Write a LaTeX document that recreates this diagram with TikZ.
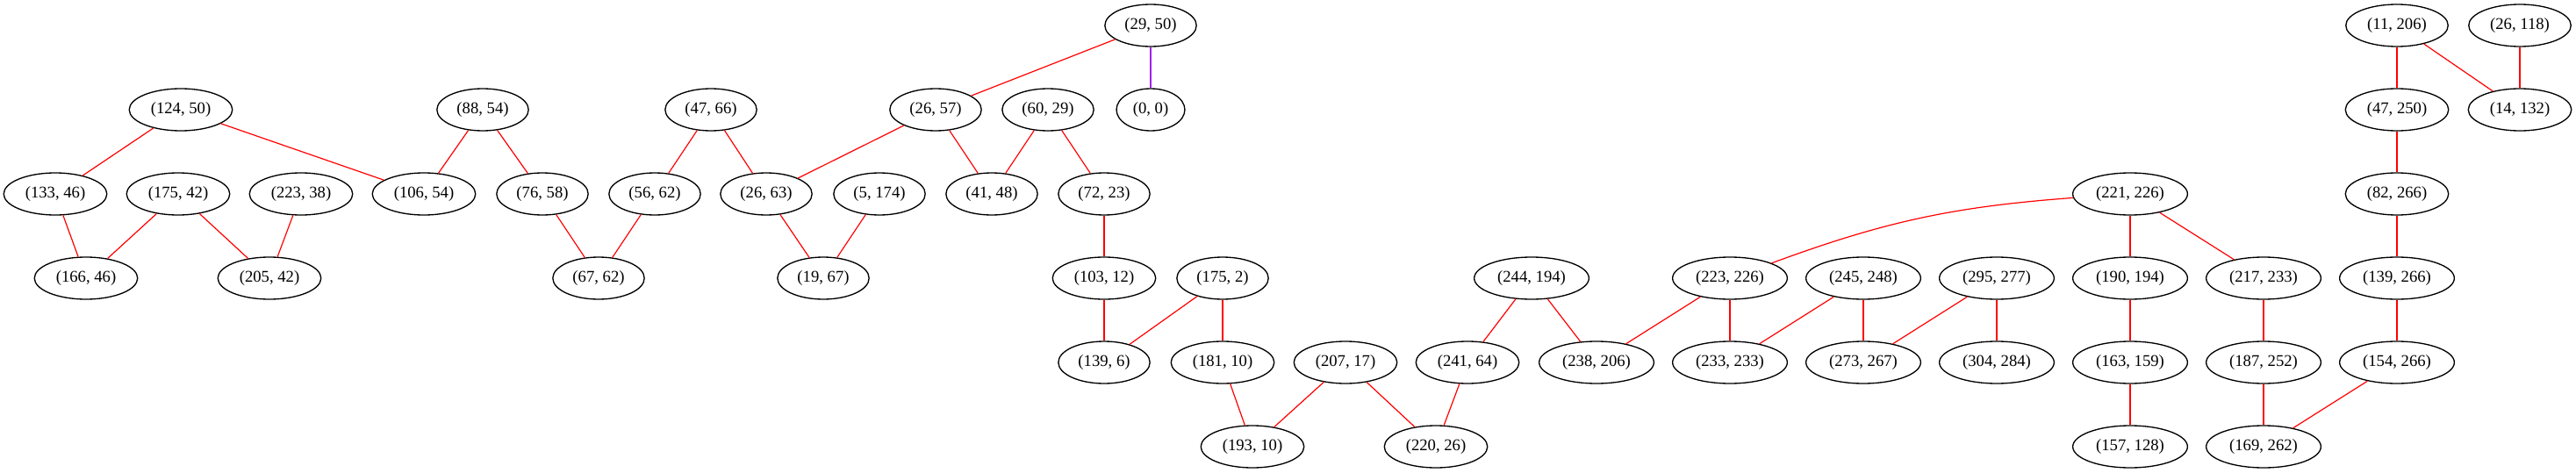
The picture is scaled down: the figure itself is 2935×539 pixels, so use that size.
\documentclass[tikz,border=0pt]{standalone}
\usepackage{fontspec}
\setmainfont{Liberation Serif}
\usepackage{tikz}
\usetikzlibrary{shapes.geometric, positioning}
\definecolor{linkpurple}{RGB}{160,32,240}
\tikzset{
    pair/.style={ellipse, draw, line width=1pt, inner xsep=5.5pt, inner ysep=2pt,
        minimum height=36pt, minimum width=54pt, font=\fontsize{14pt}{16pt}\selectfont}, % each (a, b) node
    link/.style={red, line width=0.9pt}, % the usual connector
    node distance=72pt, % one rank down
}

\begin{document}
\begin{tikzpicture}[x=0.75pt, y=-0.75pt]
    \useasboundingbox (0,0) rectangle (2935,539);
    % first rank
    \node[pair] (p29x50) at (1311,29) {(29, 50)};
    \node[pair] (p11x206) at (2731,29) {(11, 206)};
    \node[pair] (p26x118) at (2871,29) {(26, 118)};
    % second rank
    \node[pair] (p124x50) at (206,125) {(124, 50)};
    \node[pair] (p88x54) at (550,125) {(88, 54)};
    \node[pair] (p47x66) at (810,125) {(47, 66)};
    \node[pair] (p26x57) at (1066,125) {(26, 57)};
    \node[pair] (p60x29) at (1194,125) {(60, 29)};
    \node[pair, below of=p29x50] (p0x0) {(0, 0)};
    \node[pair, below of=p11x206] (p47x250) {(47, 250)};
    \node[pair, below of=p26x118] (p14x132) {(14, 132)};
    % third rank
    \node[pair] (p133x46) at (63,221) {(133, 46)};
    \node[pair] (p175x42) at (203,221) {(175, 42)};
    \node[pair] (p223x38) at (343,221) {(223, 38)};
    \node[pair] (p106x54) at (483,221) {(106, 54)};
    \node[pair] (p76x58) at (618,221) {(76, 58)};
    \node[pair] (p56x62) at (746,221) {(56, 62)};
    \node[pair] (p26x63) at (873,221) {(26, 63)};
    \node[pair] (p5x174) at (1002,221) {(5, 174)};
    \node[pair] (p41x48) at (1130,221) {(41, 48)};
    \node[pair] (p72x23) at (1258,221) {(72, 23)};
    \node[pair] (p221x226) at (2427,221) {(221, 226)};
    \node[pair, below of=p47x250] (p82x266) {(82, 266)};
    % fourth rank
    \node[pair] (p166x46) at (98,317) {(166, 46)};
    \node[pair] (p205x42) at (307,317) {(205, 42)};
    \node[pair] (p67x62) at (682,317) {(67, 62)};
    \node[pair] (p19x67) at (938,317) {(19, 67)};
    \node[pair, below of=p72x23] (p103x12) {(103, 12)};
    \node[pair] (p175x2) at (1393,317) {(175, 2)};
    \node[pair] (p244x194) at (1745,317) {(244, 194)};
    \node[pair] (p223x226) at (1971,317) {(223, 226)};
    \node[pair] (p245x248) at (2123,317) {(245, 248)};
    \node[pair] (p295x277) at (2275,317) {(295, 277)};
    \node[pair, below of=p221x226] (p190x194) {(190, 194)};
    \node[pair] (p217x233) at (2579,317) {(217, 233)};
    \node[pair, below of=p82x266] (p139x266) {(139, 266)};
    % fifth rank
    \node[pair, below of=p103x12] (p139x6) {(139, 6)};
    \node[pair, below of=p175x2] (p181x10) {(181, 10)};
    \node[pair] (p207x17) at (1533,413) {(207, 17)};
    \node[pair] (p241x64) at (1672,413) {(241, 64)};
    \node[pair] (p238x206) at (1819,413) {(238, 206)};
    \node[pair, below of=p223x226] (p233x233) {(233, 233)};
    \node[pair, below of=p245x248] (p273x267) {(273, 267)};
    \node[pair, below of=p295x277] (p304x284) {(304, 284)};
    \node[pair, below of=p190x194] (p163x159) {(163, 159)};
    \node[pair, below of=p217x233] (p187x252) {(187, 252)};
    \node[pair, below of=p139x266] (p154x266) {(154, 266)};
    % sixth rank
    \node[pair] (p193x10) at (1427,509) {(193, 10)};
    \node[pair] (p220x26) at (1636,509) {(220, 26)};
    \node[pair, below of=p163x159] (p157x128) {(157, 128)};
    \node[pair, below of=p187x252] (p169x262) {(169, 262)};
    \draw[link]
    (p124x50) edge (p133x46)
    (p124x50) edge (p106x54)
    (p88x54) edge (p106x54)
    (p88x54) edge (p76x58)
    (p133x46) edge (p166x46)
    (p175x42) edge (p166x46)
    (p175x42) edge (p205x42)
    (p223x38) edge (p205x42)
    (p76x58) edge (p67x62)
    (p56x62) edge (p67x62)
    (p47x66) edge (p56x62)
    (p47x66) edge (p26x63)
    (p26x57) edge (p26x63)
    (p26x57) edge (p41x48)
    (p60x29) edge (p41x48)
    (p60x29) edge (p72x23)
    (p29x50) edge (p26x57)
    (p29x50) edge[linkpurple] (p0x0)
    (p26x63) edge (p19x67)
    (p5x174) edge (p19x67)
    (p72x23) edge (p103x12)
    (p103x12) edge (p139x6)
    (p175x2) edge (p139x6)
    (p175x2) edge (p181x10)
    (p181x10) edge (p193x10)
    (p207x17) edge (p193x10)
    (p207x17) edge (p220x26)
    (p241x64) edge (p220x26)
    (p244x194) edge (p241x64)
    (p244x194) edge (p238x206)
    (p223x226) edge (p238x206)
    (p223x226) edge (p233x233)
    (p245x248) edge (p233x233)
    (p245x248) edge (p273x267)
    (p295x277) edge (p273x267)
    (p295x277) edge (p304x284)
    (p221x226) edge[bend right=8] (p223x226)
    (p221x226) edge (p190x194)
    (p221x226) edge (p217x233)
    (p190x194) edge (p163x159)
    (p163x159) edge (p157x128)
    (p217x233) edge (p187x252)
    (p187x252) edge (p169x262)
    (p154x266) edge (p169x262)
    (p11x206) edge (p47x250)
    (p11x206) edge (p14x132)
    (p26x118) edge (p14x132)
    (p47x250) edge (p82x266)
    (p82x266) edge (p139x266)
    (p139x266) edge (p154x266);
\end{tikzpicture}
\end{document}
